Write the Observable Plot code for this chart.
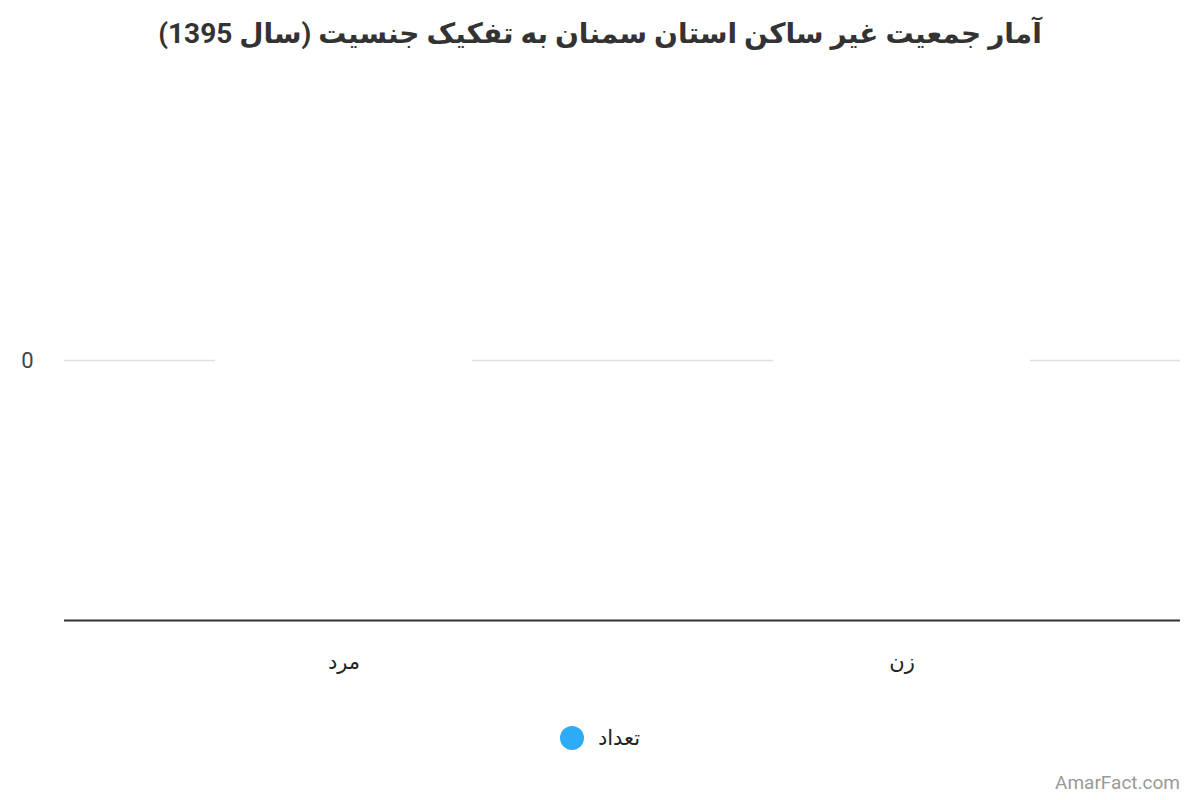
<!DOCTYPE html>
<html><head><meta charset="utf-8">
<script src="https://cdn.jsdelivr.net/npm/d3@7"></script>
<script src="https://cdn.jsdelivr.net/npm/@observablehq/plot@0.6"></script>
<style>
body{margin:0;background:#fff;font-family:Roboto,"DejaVu Sans",sans-serif;width:1200px;height:800px;position:relative;overflow:hidden}
#title{position:absolute;top:17px;left:0;width:1200px;text-align:center;font-size:28px;font-weight:bold;color:#333;direction:rtl}
#chart{position:absolute;top:70px;left:0}
#legend{position:absolute;top:726px;left:0;width:1200px;display:flex;justify-content:center;align-items:center;font-size:21px;color:#222;gap:14px}
#legend .dot{width:24px;height:24px;border-radius:50%;background:#2eabf6;display:inline-block}
#wm{position:absolute;right:20px;top:771px;font-size:19px;color:#999}
</style></head><body>
<div id="title">آمار جمعیت غیر ساکن استان سمنان به تفکیک جنسیت (سال 1395)</div>
<div id="chart"></div>
<div id="legend"><span class="dot"></span><span style="direction:rtl">تعداد</span></div>
<div id="wm">AmarFact.com</div>
<script>
const categories = ["مرد", "زن"];
const values = [0, 0];
const yTicks = [0];
const seriesName = "تعداد";
const data = categories.map((c, i) => ({category: c, value: values[i]}));

const plot = Plot.plot({
  width: 1200,
  height: 630,
  marginLeft: 64,
  marginRight: 20,
  marginTop: 30,
  marginBottom: 80,
  style: {fontFamily: 'Roboto, "DejaVu Sans", sans-serif', background: "#fff"},
  x: {domain: categories, paddingInner: 0.54, paddingOuter: 0.27, label: null},
  y: {domain: [-1, 1], ticks: yTicks, label: null},
  marks: [
    Plot.ruleY(yTicks, {stroke: "#e0e0e0", strokeWidth: 1.5}),
    Plot.tickY(data, {x: "category", y: "value", stroke: "#fff", strokeWidth: 5}),
    Plot.axisY({ticks: yTicks, tickSize: 0, tickPadding: 31, fontSize: 22, fill: "#444", tickFormat: d => String(d)}),
    Plot.axisX({tickSize: 0, tickPadding: 34, fontSize: 21, fill: "#222", label: null}),
    Plot.ruleY([-1], {stroke: "#333", strokeWidth: 2})
  ]
});
document.getElementById("chart").appendChild(plot);
</script>
</body></html>
